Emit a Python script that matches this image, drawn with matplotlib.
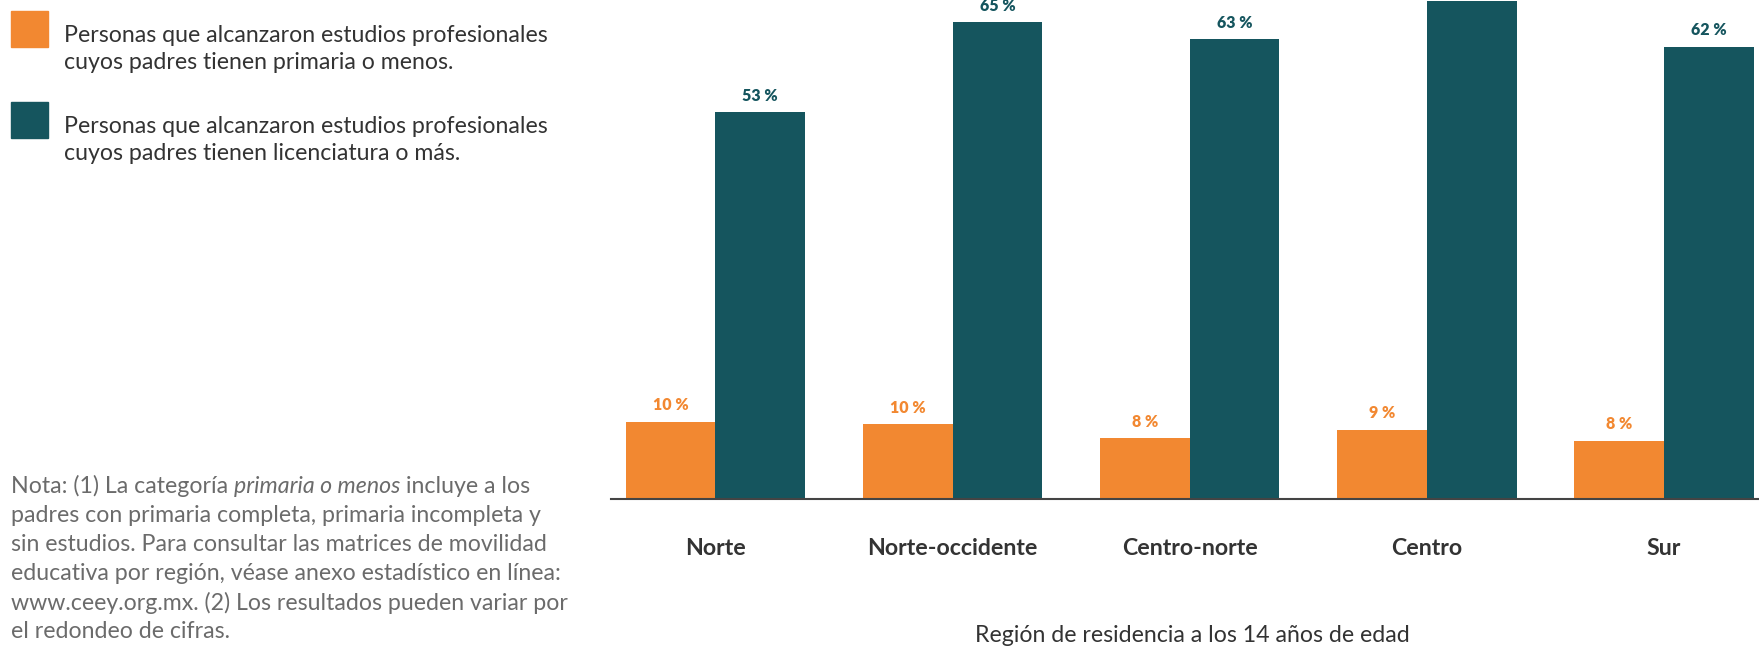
import numpy as np
import matplotlib.pyplot as plt
from matplotlib.patches import Rectangle

# Data
regiones = ["Norte", "Norte-occidente", "Centro-norte", "Centro", "Sur"]
primaria_o_menos = [10.6, 10.3, 8.3, 9.5, 8.0]
licenciatura_o_mas = [53.0, 65.4, 63.0, 68.2, 62.0]
etiquetas_primaria = ["10 %", "10 %", "8 %", "9 %", "8 %"]
# the Centro label sits above the top edge in the original, so it is not shown
etiquetas_licenciatura = ["53 %", "65 %", "63 %", "", "62 %"]

leyenda = [
    "Personas que alcanzaron estudios profesionales\ncuyos padres tienen primaria o menos.",
    "Personas que alcanzaron estudios profesionales\ncuyos padres tienen licenciatura o más.",
]
nota_lineas = [
    "padres con primaria completa, primaria incompleta y",
    "sin estudios. Para consultar las matrices de movilidad",
    "educativa por región, véase anexo estadístico en línea:",
    "www.ceey.org.mx. (2) Los resultados pueden variar por",
    "el redondeo de cifras.",
]

NARANJA = "#F28831"
VERDE = "#15555E"
TEXTO = "#333333"
GRIS = "#6B6B6B"
FS = 16.7

W, H = 1759, 646
plt.rcParams["font.family"] = ["Lato", "DejaVu Sans"]

fig = plt.figure(figsize=(W / 100, H / 100), dpi=100)


def fx(px):
    return px / W


def fy(py):
    return 1 - py / H


# Bars
ax = fig.add_axes([fx(611), (H - 499) / H, 1 - fx(611), 499 / H])
x = np.arange(len(regiones))
w = 0.378
b1 = ax.bar(x - w / 2, primaria_o_menos, w, color=NARANJA)
b2 = ax.bar(x + w / 2, licenciatura_o_mas, w, color=VERDE)
ax.bar_label(b1, labels=etiquetas_primaria, padding=6, color=NARANJA,
             fontsize=11.5, fontweight="heavy")
ax.bar_label(b2, labels=etiquetas_licenciatura, padding=6, color=VERDE,
             fontsize=11.5, fontweight="heavy")

ax.set_xlim(-0.44, 4.40)
ax.set_ylim(0, 68.4)
ax.set_yticks([])
ax.set_xticks(x, regiones)
ax.tick_params(axis="x", length=0, pad=28, labelsize=FS, labelcolor=TEXTO)
for lbl in ax.get_xticklabels():
    lbl.set_fontweight("bold")
for s in ["top", "right", "left"]:
    ax.spines[s].set_visible(False)
ax.spines["bottom"].set_color("#444444")
ax.spines["bottom"].set_linewidth(1.5)

fig.text(fx(1192), fy(635), "Región de residencia a los 14 años de edad",
         ha="center", va="center", fontsize=FS, color=TEXTO)

# Legend (drawn by hand to match the layout)
for i, (col, txt) in enumerate(zip([NARANJA, VERDE], leyenda)):
    top = 11 + i * 91
    fig.add_artist(Rectangle((fx(11), fy(top + 36)), 37 / W, 36 / H,
                             transform=fig.transFigure, color=col))
    fig.text(fx(64), fy(top + 38), txt, ha="left", va="center",
             fontsize=FS, color=TEXTO, linespacing=1.3)

# Note with italic words on the first line
t1 = fig.text(fx(11), fy(486), "Nota: (1) La categoría", ha="left",
              va="center", fontsize=FS, color=GRIS)
t2 = fig.text(0, 0, "primaria o menos", fontsize=FS, color=GRIS,
              style="italic", ha="left", va="bottom")
t3 = fig.text(0, 0, "incluye a los", fontsize=FS, color=GRIS,
              ha="left", va="bottom")
fig.canvas.draw()
r = fig.canvas.get_renderer()
bb1 = t1.get_window_extent(r)
space = 6
t2.set_position((fx(bb1.x1 + space), bb1.y0 / H))
fig.canvas.draw()
bb2 = t2.get_window_extent(r)
t3.set_position((fx(bb2.x1 + space), bb1.y0 / H))

for i, line in enumerate(nota_lineas):
    fig.text(fx(11), fy(486 + 29.2 * (i + 1)), line, ha="left", va="center",
             fontsize=FS, color=GRIS)

fig.savefig("out.png", dpi=100)
